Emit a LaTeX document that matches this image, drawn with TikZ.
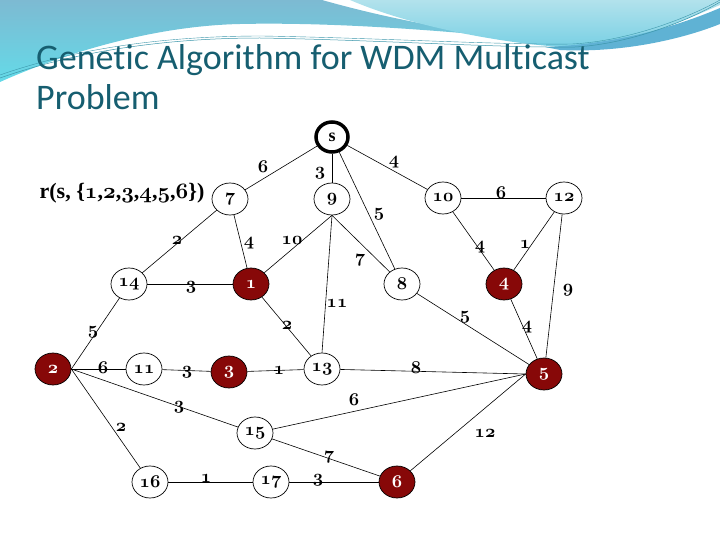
\documentclass[tikz,border=0pt]{standalone}
\usepackage{fontspec}
\newfontfamily\titlefont[Ligatures=NoCommon]{Carlito}
\newfontfamily\lserif{Liberation Serif}
\usetikzlibrary{shapes.geometric}
\definecolor{titlecol}{RGB}{22,94,112}
\definecolor{nodered}{RGB}{135,8,8}
\definecolor{swblue}{RGB}{125,186,210}
\definecolor{swcyan}{RGB}{100,218,232}
\definecolor{swlight}{RGB}{178,226,236}
\definecolor{swlightb}{RGB}{120,208,228}
\definecolor{swband}{RGB}{95,178,212}
\definecolor{swline}{RGB}{60,150,170}
\DeclareFontFamily{OML}{oscmm}{\skewchar\font'177}
\DeclareFontShape{OML}{oscmm}{b}{it}{<->cmmib10}{}
\newcommand\osn[1]{{\usefont{OML}{oscmm}{b}{it}#1}}
\tikzset{
  vtx/.style={ellipse, draw, line width=0.7pt, minimum width=36pt, minimum height=32pt,
              inner sep=0pt, font=\fontsize{18}{18}\selectfont, fill=white},
  rvtx/.style={vtx, fill=nodered, text=white},
  srcvtx/.style={vtx, line width=3.5pt, minimum width=32pt, minimum height=30pt},
  wt/.style={font=\fontsize{18}{18}\selectfont, inner sep=0.5pt},
  edge/.style={line width=0.6pt}
}
\begin{document}
\begin{tikzpicture}[x=1pt,y=-1pt]
\useasboundingbox (0,0) rectangle (720,540);
% decorative swoosh
\shade[top color=swblue, bottom color=swcyan]
  (0,0) -- (322,0) .. controls (400,22) and (470,33) .. (535,40)
  .. controls (440,30) and (330,22) .. (240,24)
  .. controls (150,26) and (60,55) .. (0,82) -- cycle;
\shade[top color=swlight, bottom color=swlightb]
  (350,0) -- (720,0) -- (720,5) .. controls (680,22) and (630,45) .. (580,48)
  .. controls (520,46) and (420,30) .. (350,0) -- cycle;
\fill[swband] (545,47) .. controls (620,44) and (680,25) .. (720,8) -- (720,24)
  .. controls (680,40) and (620,53) .. (560,50) -- cycle;
\draw[swline, line width=0.5pt] (0,78) .. controls (80,50) and (170,38) .. (260,38)
  .. controls (380,40) and (500,48) .. (575,47) .. controls (630,44) and (690,20) .. (720,2);
\draw[swline, line width=0.4pt] (0,75) .. controls (80,47) and (170,36) .. (262,36)
  .. controls (380,38) and (500,45) .. (572,44) .. controls (630,41) and (690,17) .. (720,0);
% title
\node[anchor=base west, inner sep=0pt, text=titlecol, font=\titlefont\fontsize{36}{40}\selectfont]
  (title1) at (36,70) {Genetic Algorithm for WDM Multicast};
\node[anchor=base west, inner sep=0pt, text=titlecol, font=\titlefont\fontsize{36}{40}\selectfont]
  (title2) at (36,110) {Problem};
% request text
\node[inner sep=0pt, font=\lserif\fontsize{22}{22}\selectfont\bfseries] (req) at (122,193)
  {r(s, \{\osn{1},\osn{2},\osn{3},\osn{4},\osn{5},\osn{6}\})};
% vertices
\node[srcvtx] (s) at (332,137) {\lserif\bfseries s};
\node[vtx] (n7) at (230,199) {\osn{7}};
\node[vtx] (n9) at (332,199) {\osn{9}};
\node[vtx] (n10) at (443,198) {\osn{10}};
\node[vtx] (n12) at (564,198) {\osn{12}};
\node[vtx] (n14) at (129,284) {\osn{14}};
\node[rvtx] (n1) at (251,284) {\osn{1}};
\node[vtx] (n8) at (402,284) {\osn{8}};
\node[rvtx] (n4) at (504,284) {\osn{4}};
\node[rvtx] (n2) at (53,369) {\osn{2}};
\node[vtx] (n11) at (144,369) {\osn{11}};
\node[rvtx] (n3) at (229,372) {\osn{3}};
\node[vtx] (n13) at (322,369) {\osn{13}};
\node[rvtx] (n5) at (544,374) {\osn{5}};
\node[vtx] (n15) at (255,433) {\osn{15}};
\node[vtx] (n16) at (150,482) {\osn{16}};
\node[vtx] (n17) at (271,482) {\osn{17}};
\node[rvtx] (n6) at (397,482) {\osn{6}};
% edges
\draw[edge] (s) -- (n7);
\draw[edge] (s) -- (n9);
\draw[edge] (s) -- (n8);
\draw[edge] (s) -- (n10);
\draw[edge] (n7) -- (n14);
\draw[edge] (n7) -- (n1);
\draw[edge] (n9.south) -- (n1);
\draw[edge] (n9.south) -- (n8);
\draw[edge] (n9.south) -- (n13.north);
\draw[edge] (n10) -- (n12);
\draw[edge] (n10) -- (n4);
\draw[edge] (n12) -- (n4);
\draw[edge] (n12) -- (n5);
\draw[edge] (n14) -- (n1);
\draw[edge] (n14) -- (n2.east);
\draw[edge] (n1) -- (n13);
\draw[edge] (n8) -- (n5);
\draw[edge] (n4) -- (n5);
\draw[edge] (n2.east) -- (n11);
\draw[edge] (n11) -- (n3);
\draw[edge] (n3) -- (n13);
\draw[edge] (n2.east) -- (n15);
\draw[edge] (n2.east) -- (n16);
\draw[edge] (n13) -- (n5.west);
\draw[edge] (n15) -- (n5.west);
\draw[edge] (n15) -- (n6);
\draw[edge] (n16) -- (n17);
\draw[edge] (n17) -- (n6);
\draw[edge] (n6) -- (n5.west);
% weights
\node[wt] (w1) at (263,167) {\osn{6}};
\node[wt] (w2) at (320,173) {\osn{3}};
\node[wt] (w3) at (394,162) {\osn{4}};
\node[wt] (w4) at (379,214) {\osn{5}};
\node[wt] (w5) at (177,240) {\osn{2}};
\node[wt] (w6) at (249,243) {\osn{4}};
\node[wt] (w7) at (292,240) {\osn{10}};
\node[wt] (w8) at (360,260) {\osn{7}};
\node[wt] (w9) at (337,303) {\osn{11}};
\node[wt] (w10) at (501,193) {\osn{6}};
\node[wt] (w11) at (480,247) {\osn{4}};
\node[wt] (w12) at (525,244) {\osn{1}};
\node[wt] (w13) at (568,290) {\osn{9}};
\node[wt] (w14) at (191,287) {\osn{3}};
\node[wt] (w15) at (93,332) {\osn{5}};
\node[wt] (w16) at (287,325) {\osn{2}};
\node[wt] (w17) at (465,317) {\osn{5}};
\node[wt] (w18) at (527,327) {\osn{4}};
\node[wt] (w19) at (103,368) {\osn{6}};
\node[wt] (w20) at (187,372) {\osn{3}};
\node[wt] (w21) at (279,370) {\osn{1}};
\node[wt] (w22) at (179,407) {\osn{3}};
\node[wt] (w23) at (121,427) {\osn{2}};
\node[wt] (w24) at (416,368) {\osn{8}};
\node[wt] (w25) at (354,400) {\osn{6}};
\node[wt] (w26) at (329,457) {\osn{7}};
\node[wt] (w27) at (206,478) {\osn{1}};
\node[wt] (w28) at (318,480) {\osn{3}};
\node[wt] (w29) at (485,433) {\osn{12}};
\end{tikzpicture}
\end{document}
